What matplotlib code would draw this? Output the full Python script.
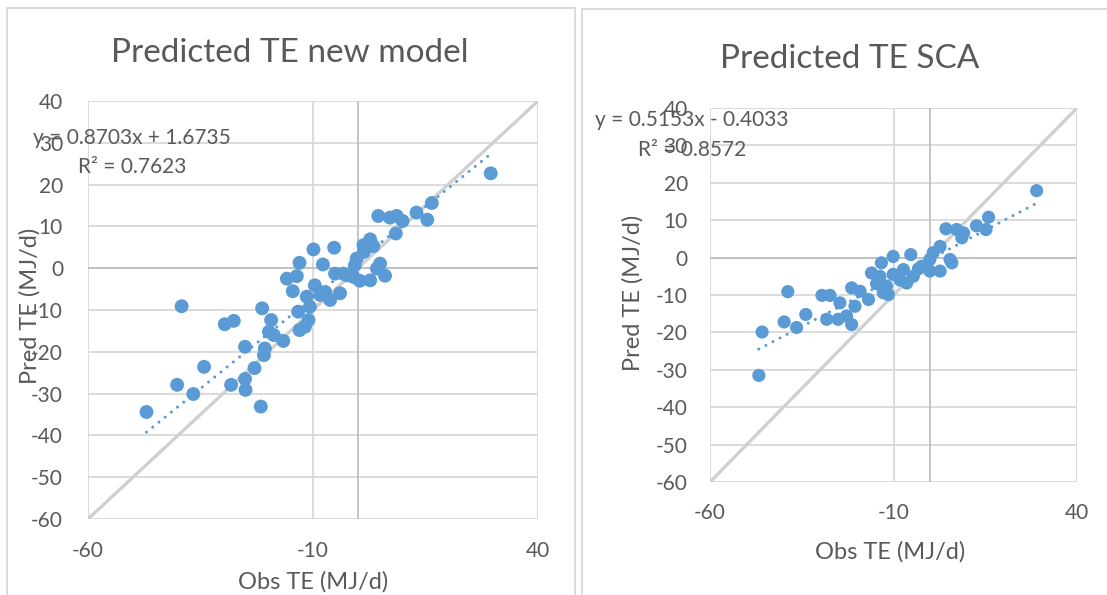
import numpy as np
import matplotlib
matplotlib.use("Agg")
import matplotlib.pyplot as plt
from matplotlib.patches import Rectangle

plt.rcParams['font.family'] = ['Lato', 'DejaVu Sans']
plt.rcParams['axes.unicode_minus'] = False

# observed vs predicted total energy, new model
obs_new = [29.5, 16.4, 15.4, 13.0, 4.5, 7.1, 8.6, 9.9, 8.4, 2.7, 3.4, 1.2, 1.3, -0.3,
           -0.7, 4.9, 6.0, 4.2, 2.7, 0.4, -1.0, -2.5, -3.3, -5.1, -5.3, -9.9, -7.8, -13.0,
           -13.6, -15.8, -14.5, -9.6, -11.4, -8.4, -6.2, -4.0, -7.3, -10.7, -13.3, -11.0,
           -11.8, -13.0, -21.3, -19.3, -19.8, -18.7, -16.6, -20.7, -20.9, -25.1, -23.0,
           -25.1, -25.0, -21.6, -28.2, -29.6, -27.6, -34.2, -36.6, -40.2, -47.0, -39.2]
pred_new = [22.7, 15.6, 11.6, 13.3, 12.5, 12.1, 12.5, 11.3, 8.3, 6.9, 5.3, 5.5, 3.9, 2.3,
            0.7, 1.1, -1.8, -0.1, -2.9, -3.0, -2.1, -1.7, -1.3, -1.3, 4.9, 4.5, 0.9, 1.3,
            -1.9, -2.5, -5.5, -4.1, -6.8, -6.4, -7.6, -6.0, -5.7, -9.2, -10.4, -12.4,
            -14.0, -14.8, -9.6, -12.4, -15.2, -16.0, -17.4, -19.2, -20.8, -18.8, -23.9,
            -26.5, -29.1, -33.1, -27.9, -13.4, -12.6, -23.6, -30.1, -27.9, -34.4, -9.1]

# observed vs predicted total energy, SCA
obs_sca = [29.0, 15.9, 15.2, 12.6, 4.3, 7.2, 9.1, 8.6, 2.7, 0.8, -0.1, 5.4, 5.9, 2.7,
           -0.1, -2.3, -5.3, -10.1, -13.3, -16.0, -13.7, -10.1, -7.3, -4.6, -6.4, -11.9,
           -12.8, -11.4, -21.4, -19.1, -16.8, -20.5, -21.4, -25.1, -24.6, -27.3, -29.5,
           -28.2, -33.9, -36.4, -39.8, -38.8, -45.8, -46.7, -22.8, -14.6, -8.2, -3.2]
pred_sca = [17.9, 10.8, 7.5, 8.5, 7.7, 7.5, 6.6, 5.3, 3.0, 1.3, -0.5, -0.5, -1.4, -3.6,
            -3.6, -2.3, 0.8, 0.3, -1.4, -4.1, -5.0, -4.5, -3.2, -5.0, -6.8, -7.6, -9.4,
            -9.9, -8.1, -9.0, -11.2, -13.0, -17.9, -16.5, -12.1, -10.1, -10.1, -16.5,
            -15.2, -18.7, -17.2, -9.1, -19.9, -31.5, -15.6, -7.0, -6.0, -3.0]

# Excel trendline coefficients (slope, intercept, R^2)
fit_new = (0.8703, 1.6735, 0.7623)
fit_sca = (0.5153, -0.4033, 0.8572)

W, H = 1107, 595
BLUE = '#5B9BD5'
TXT = '#595959'
GRID = '#d9d9d9'

fig = plt.figure(figsize=(W / 100, H / 100), dpi=100)


def px(x, y):
    return x / W, 1 - y / H


def rect(x0, y0, x1, y1):
    return [x0 / W, 1 - y1 / H, (x1 - x0) / W, (y1 - y0) / H]


# chart frames
for x0, y0, x1, y1 in [(7, 8, 575, 620), (582, 9, 1120, 620)]:
    fig.patches.append(Rectangle(px(x0, y1), (x1 - x0) / W, (y1 - y0) / H,
                                 transform=fig.transFigure, fill=False,
                                 edgecolor=GRID, linewidth=1.3))


def scatter_panel(box, obs, pred, fit, size, xpad, ypad, eq_pos, r2_pos):
    ax = fig.add_axes(rect(*box))
    ax.set_xlim(-60, 40)
    ax.set_ylim(-60, 40)
    ax.set_xticks([-60, -10, 40])
    ax.set_yticks(np.arange(-60, 41, 10))
    for s in ax.spines.values():
        s.set_visible(False)
    ax.grid(True, color=GRID, linewidth=1.3, zorder=0)
    ax.set_axisbelow(True)
    ax.axhline(0, color='#bfbfbf', linewidth=1.3, zorder=1)
    ax.axvline(0, color='#bfbfbf', linewidth=1.3, zorder=1)
    ax.tick_params(length=0, labelsize=15, labelcolor=TXT)
    ax.tick_params(axis='x', pad=xpad)
    ax.tick_params(axis='y', pad=ypad)

    # 1:1 reference line
    ax.plot([-60, 40], [-60, 40], color='#d0d0d0', linewidth=2.4, zorder=2,
            solid_capstyle='butt')

    ax.scatter(obs, pred, s=size, color=BLUE, edgecolors='none', zorder=3)

    slope, icpt, r2 = fit
    xs = np.array([min(obs), max(obs)])
    ax.plot(xs, slope * xs + icpt, color=BLUE, linewidth=2.2,
            linestyle=(0, (0.01, 2.6)), dash_capstyle='round', zorder=4)

    sign = '+' if icpt >= 0 else '-'
    fig.text(*px(*eq_pos), f'y = {slope:.4f}x {sign} {abs(icpt):.4f}',
             fontsize=15, color=TXT, va='center', ha='left')
    fig.text(*px(*r2_pos), f'R² = {r2:.4f}', fontsize=15, color=TXT,
             va='center', ha='left')
    return ax


scatter_panel((88, 101, 538, 519), obs_new, pred_new, fit_new, 100, 16, 18,
              (33, 138), (78, 167))
scatter_panel((710, 108, 1077, 482), obs_sca, pred_sca, fit_sca, 90, 15, 16,
              (595, 120), (638, 150))

fig.text(*px(290, 53), 'Predicted TE new model', fontsize=24, color=TXT,
         ha='center', va='center')
fig.text(*px(850, 59), 'Predicted TE SCA', fontsize=24, color=TXT,
         ha='center', va='center')

fig.text(*px(313, 582), 'Obs TE (MJ/d)', fontsize=17, color=TXT,
         ha='center', va='center')
fig.text(*px(890, 552), 'Obs TE (MJ/d)', fontsize=17, color=TXT,
         ha='center', va='center')
fig.text(*px(30, 306), 'Pred TE (MJ/d)', fontsize=17, color=TXT,
         ha='center', va='center', rotation=90)
fig.text(*px(633, 293), 'Pred TE (MJ/d)', fontsize=17, color=TXT,
         ha='center', va='center', rotation=90)

fig.savefig('out.png', dpi=100, facecolor='white')
